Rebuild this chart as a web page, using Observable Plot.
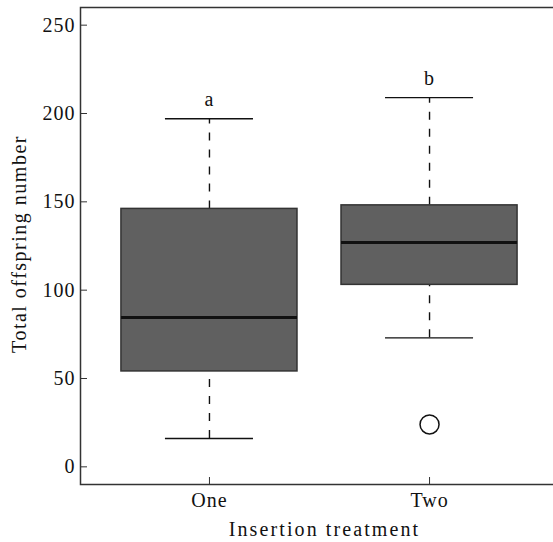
<!DOCTYPE html>
<html>
<head>
<meta charset="utf-8">
<script src="https://cdn.jsdelivr.net/npm/d3@7"></script>
<script src="https://cdn.jsdelivr.net/npm/@observablehq/plot@0.6"></script>
<style>
  html, body { margin: 0; padding: 0; background: #fff; }
  #chart svg { display: block; overflow: hidden; }
</style>
</head>
<body>
<div id="chart"></div>
<script>
// ---- data ----
const treatments   = ["One", "Two"];
const positions    = [1, 2];
const whiskerLow   = [16, 73];
const q1           = [54, 103];
const median       = [84.5, 127];
const q3           = [146, 148];
const whiskerHigh  = [197, 209];
const sigLetters   = ["a", "b"];
const outlierGroup = [2];
const outlierValue = [24];
const yTicks       = [0, 50, 100, 150, 200, 250];
const xTitle       = "Insertion treatment";
const yTitle       = "Total offspring number";

// ---- table built from the arrays ----
const boxes = treatments.map((t, i) => ({
  t, pos: positions[i], lo: whiskerLow[i], q1: q1[i], med: median[i],
  q3: q3[i], hi: whiskerHigh[i], letter: sigLetters[i]
}));
const outliers = outlierGroup.map((g, i) => ({pos: g, v: outlierValue[i]}));

const BOX = 0.4, CAP = 0.2;
const FONT = "'Liberation Serif', 'Times New Roman', serif";

const chart = Plot.plot({
  width: 553,
  height: 542,
  marginLeft: 80,
  marginRight: -5,
  marginTop: 7,
  marginBottom: 58,
  style: {fontFamily: FONT, fontSize: "20px", letterSpacing: "1px", background: "#fff", color: "#111"},
  x: {domain: [0.414, 2.586], ticks: positions, tickFormat: d => treatments[d - 1]},
  y: {domain: [-10, 260], ticks: yTicks},
  marks: [
    // whiskers (dashed)
    Plot.ruleX(boxes, {x: "pos", y1: "q3", y2: "hi", stroke: "#111", strokeWidth: 1.4, strokeDasharray: "8,9"}),
    Plot.ruleX(boxes, {x: "pos", y1: "lo", y2: "q1", stroke: "#111", strokeWidth: 1.4, strokeDasharray: "8,9"}),
    // caps
    Plot.ruleY(boxes, {y: "hi", x1: d => d.pos - CAP, x2: d => d.pos + CAP, stroke: "#111", strokeWidth: 1.4}),
    Plot.ruleY(boxes, {y: "lo", x1: d => d.pos - CAP, x2: d => d.pos + CAP, stroke: "#111", strokeWidth: 1.4}),
    // boxes
    Plot.rect(boxes, {x1: d => d.pos - BOX, x2: d => d.pos + BOX, y1: "q1", y2: "q3", fill: "#606060", stroke: "#333", strokeWidth: 1.5}),
    // medians
    Plot.ruleY(boxes, {y: "med", x1: d => d.pos - BOX, x2: d => d.pos + BOX, stroke: "#111", strokeWidth: 3}),
    // outlier
    Plot.dot(outliers, {x: "pos", y: "v", r: 9.5, stroke: "#111", strokeWidth: 1.5, fill: "none"}),
    // significance letters
    Plot.text(boxes, {x: "pos", y: "hi", text: "letter", dy: -19, lineAnchor: "middle", fontSize: 20, fill: "#111"}),
    // axes
    Plot.axisY({ticks: yTicks, tickSize: -7, tickPadding: 12, label: null, stroke: "#333", fill: "#111"}),
    Plot.axisX({ticks: positions, tickFormat: d => treatments[d - 1], tickSize: -7, tickPadding: 15, label: null, stroke: "#333", fill: "#111"}),
    Plot.frame({stroke: "#333", strokeWidth: 1.5}),
    // axis titles
    Plot.text([xTitle], {frameAnchor: "bottom", textAnchor: "middle", dx: 5, dy: 45, lineAnchor: "middle", fontSize: 20, fill: "#111"}),
    Plot.text([yTitle], {frameAnchor: "left", textAnchor: "middle", dx: -61, dy: -2, rotate: -90, lineAnchor: "middle", fontSize: 20, fill: "#111"})
  ]
});
// widen the tracking of the two axis titles, as in the reference
d3.select(chart).selectAll("text")
  .filter(function () { return this.textContent === xTitle; })
  .style("letter-spacing", "2.1px");
d3.select(chart).selectAll("text")
  .filter(function () { return this.textContent === yTitle; })
  .style("letter-spacing", "1.5px");
document.getElementById("chart").appendChild(chart);
</script>
</body>
</html>
